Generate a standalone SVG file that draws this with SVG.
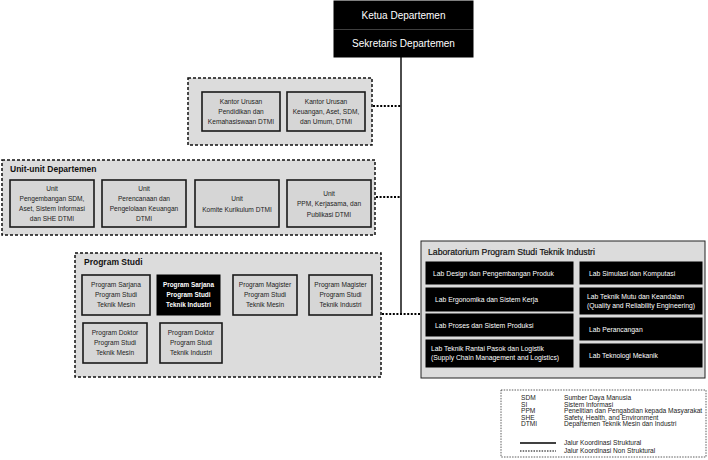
<svg xmlns="http://www.w3.org/2000/svg" width="708" height="460" viewBox="0 0 708 460">
<style>
.grp{fill:#dcdcdc;stroke:#111;stroke-width:1.5;stroke-dasharray:3 2}
.box{fill:#d6d6d6;stroke:#1a1a1a;stroke-width:1.6}
.blk{fill:#000;stroke:#000}
.t{font-family:"Liberation Sans",Arial,sans-serif;font-size:6.6px;fill:#222;text-anchor:middle}
.tw{font-family:"Liberation Sans",Arial,sans-serif;font-size:6.4px;fill:#fff;text-anchor:middle;font-weight:bold}
.h{font-family:"Liberation Sans",Arial,sans-serif;font-size:8.5px;font-weight:bold;fill:#111}
.top{font-family:"Liberation Sans",Arial,sans-serif;font-size:10px;fill:#fff;text-anchor:middle}
.lab{font-family:"Liberation Sans",Arial,sans-serif;font-size:6.8px;fill:#fff}
.lg{font-family:"Liberation Sans",Arial,sans-serif;font-size:6.6px;fill:#222}
.dot{stroke:#000;stroke-width:2;stroke-dasharray:2 1.6;fill:none}
.sol{stroke:#000;stroke-width:1.4;fill:none}
</style>
<rect width="708" height="460" fill="#fff"/>
<g id="connectors">
<line class="sol" x1="401" y1="57" x2="401" y2="314"/>
<line class="dot" x1="373" y1="106" x2="401" y2="106"/>
<line class="dot" x1="376" y1="197" x2="401" y2="197"/>
<line class="dot" x1="382" y1="314" x2="421" y2="314"/>
</g>
<g id="ketua">
<rect class="blk" x="334" y="1" width="139" height="28"/>
<text class="top" x="403.5" y="18.5">Ketua Departemen</text>
</g>
<g id="sekretaris">
<rect class="blk" x="334" y="30" width="139" height="27"/>
<text class="top" x="403.5" y="47">Sekretaris Departemen</text>
</g>
<g id="kantor-group">
<rect class="grp" x="188" y="78" width="184" height="67"/>
<g id="kantor1">
<rect class="box" x="202" y="92" width="78" height="39"/>
<text class="t" x="241" y="104">Kantor Urusan</text>
<text class="t" x="241" y="114">Pendidikan dan</text>
<text class="t" x="241" y="124">Kemahasiswaan DTMI</text>
</g>
<g id="kantor2">
<rect class="box" x="287" y="92" width="78" height="39"/>
<text class="t" x="326" y="104">Kantor Urusan</text>
<text class="t" x="326" y="114">Keuangan, Aset, SDM,</text>
<text class="t" x="326" y="124">dan Umum, DTMI</text>
</g>
</g>
<g id="unit-group">
<rect class="grp" x="2" y="160" width="373" height="75"/>
<text class="h" x="10" y="172">Unit-unit Departemen</text>
<g id="unit1">
<rect class="box" x="10" y="180" width="84" height="47"/>
<text class="t" x="52" y="191">Unit</text>
<text class="t" x="52" y="201">Pengembangan SDM,</text>
<text class="t" x="52" y="211">Aset, Sistem Informasi</text>
<text class="t" x="52" y="221">dan SHE DTMI</text>
</g>
<g id="unit2">
<rect class="box" x="102" y="180" width="84" height="47"/>
<text class="t" x="144" y="191">Unit</text>
<text class="t" x="144" y="201">Perencanaan dan</text>
<text class="t" x="144" y="211">Pengelolaan Keuangan</text>
<text class="t" x="144" y="221">DTMI</text>
</g>
<g id="unit3">
<rect class="box" x="195" y="180" width="84" height="47"/>
<text class="t" x="237" y="201">Unit</text>
<text class="t" x="237" y="212">Komite Kurikulum DTMI</text>
</g>
<g id="unit4">
<rect class="box" x="287" y="180" width="84" height="47"/>
<text class="t" x="329" y="196">Unit</text>
<text class="t" x="329" y="206">PPM, Kerjasama, dan</text>
<text class="t" x="329" y="217">Publikasi DTMI</text>
</g>
</g>
<g id="prodi-group">
<rect class="grp" x="75" y="253" width="306" height="124"/>
<text class="h" x="84" y="265">Program Studi</text>
<g id="ps1">
<rect class="box" x="82" y="275" width="68" height="40"/>
<text class="t" x="116" y="287">Program Sarjana</text>
<text class="t" x="116" y="297">Program Studi</text>
<text class="t" x="116" y="307">Teknik Mesin</text>
</g>
<g id="ps2">
<rect class="blk" x="157" y="275" width="63" height="40"/>
<text class="tw" x="188.5" y="287">Program Sarjana</text>
<text class="tw" x="188.5" y="297">Program Studi</text>
<text class="tw" x="188.5" y="307">Teknik Industri</text>
</g>
<g id="pm1">
<rect class="box" x="233" y="275" width="64" height="40"/>
<text class="t" x="265" y="287">Program Magister</text>
<text class="t" x="265" y="297">Program Studi</text>
<text class="t" x="265" y="307">Teknik Mesin</text>
</g>
<g id="pm2">
<rect class="box" x="309" y="275" width="63" height="40"/>
<text class="t" x="340.5" y="287">Program Magister</text>
<text class="t" x="340.5" y="297">Program Studi</text>
<text class="t" x="340.5" y="307">Teknik Industri</text>
</g>
<g id="pd1">
<rect class="box" x="83" y="323" width="64" height="40"/>
<text class="t" x="115" y="335">Program Doktor</text>
<text class="t" x="115" y="345">Program Studi</text>
<text class="t" x="115" y="355">Teknik Mesin</text>
</g>
<g id="pd2">
<rect class="box" x="160" y="323" width="62" height="40"/>
<text class="t" x="191" y="335">Program Doktor</text>
<text class="t" x="191" y="345">Program Studi</text>
<text class="t" x="191" y="355">Teknik Industri</text>
</g>
</g>
<g id="lab-group">
<rect x="421" y="241" width="284" height="137" fill="#dcdcdc" stroke="#222" stroke-width="1"/>
<text x="428" y="255" style="font-family:'Liberation Sans',Arial,sans-serif;font-size:8.7px;fill:#111;stroke:#111;stroke-width:0.2">Laboratorium Program Studi Teknik Industri</text>
<g id="lab1"><rect class="blk" x="426" y="262" width="147" height="22"/><text class="lab" x="433" y="275.5">Lab Design dan Pengembangan Produk</text></g>
<g id="lab2"><rect class="blk" x="426" y="288" width="147" height="23"/><text class="lab" x="435" y="302">Lab Ergonomika dan Sistem Kerja</text></g>
<g id="lab3"><rect class="blk" x="426" y="314" width="147" height="22"/><text class="lab" x="435" y="327.5">Lab Proses dan Sistem Produksi</text></g>
<g id="lab4"><rect class="blk" x="426" y="340" width="147" height="27"/><text class="lab" x="431" y="351">Lab Teknik Rantai Pasok dan Logistik</text><text class="lab" x="431" y="360">(Supply Chain Management and Logistics)</text></g>
<g id="lab5"><rect class="blk" x="580" y="262" width="122" height="22"/><text class="lab" x="589" y="275.5">Lab Simulasi dan Komputasi</text></g>
<g id="lab6"><rect class="blk" x="580" y="288" width="122" height="26"/><text class="lab" x="587" y="299">Lab Teknik Mutu dan Keandalan</text><text class="lab" x="587" y="308">(Quality and Reliability Engineering)</text></g>
<g id="lab7"><rect class="blk" x="580" y="318" width="122" height="22"/><text class="lab" x="589" y="331.5">Lab Perancangan</text></g>
<g id="lab8"><rect class="blk" x="580" y="344" width="122" height="23"/><text class="lab" x="589" y="358">Lab Teknologi Mekanik</text></g>
</g>
<g id="legend">
<rect x="501" y="390" width="205" height="67" fill="#fff" stroke="#333" stroke-width="0.8" stroke-dasharray="1.5 1.2"/>
<text class="lg" x="521" y="400">SDM</text><text class="lg" x="564" y="400">Sumber Daya Manusia</text>
<text class="lg" x="521" y="406.5">SI</text><text class="lg" x="564" y="406.5">Sistem Informasi</text>
<text class="lg" x="521" y="413">PPM</text><text class="lg" x="564" y="413">Penelitian dan Pengabdian kepada Masyarakat</text>
<text class="lg" x="521" y="419.5">SHE</text><text class="lg" x="564" y="419.5">Safety, Health, and Environment</text>
<text class="lg" x="521" y="426">DTMI</text><text class="lg" x="564" y="426">Departemen Teknik Mesin dan Industri</text>
<line class="sol" x1="520" y1="443" x2="556" y2="443"/>
<text class="lg" x="564" y="445">Jalur Koordinasi Struktural</text>
<line x1="520" y1="451" x2="556" y2="451" stroke="#000" stroke-width="1.2" stroke-dasharray="1.5 1.2"/>
<text class="lg" x="564" y="453">Jalur Koordinasi Non Struktural</text>
</g>
</svg>
